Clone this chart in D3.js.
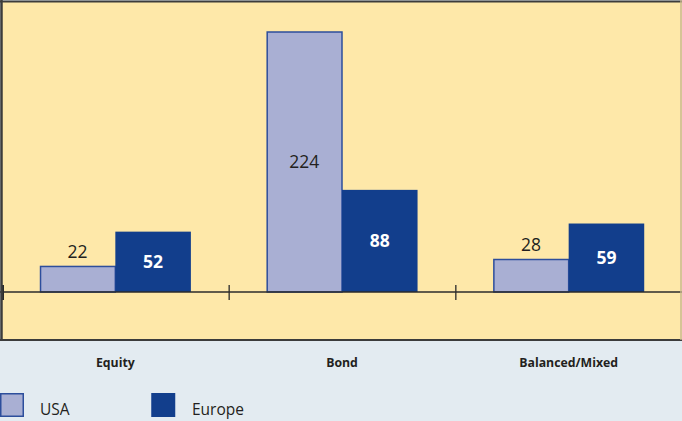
<!DOCTYPE html>
<html>
<head>
<meta charset="utf-8">
<script src="https://cdn.jsdelivr.net/npm/d3@7"></script>
<style>
html,body{margin:0;padding:0;background:#e3ebf1;}
svg{display:block;}
text{font-family:"Open Sans","Noto Sans",sans-serif;}
</style>
</head>
<body>
<svg id="chart" width="682" height="421"></svg>
<script>
const categories = ["Equity", "Bond", "Balanced/Mixed"];
const seriesNames = ["USA", "Europe"];
const usaValues = [22, 224, 28];
const europeValues = [52, 88, 59];

const W = 682, H = 421;
const plot = {left: 2, right: 682, top: 2, bottom: 340};
const colors = {USA: "#a9afd3", Europe: "#123e8c"};
const strokes = {USA: "#2d4e9c", Europe: "#123e8c"};

const svg = d3.select("#chart");

svg.append("rect").attr("x", 0).attr("y", 0).attr("width", W).attr("height", H).attr("fill", "#e3ebf1");

// plot background
svg.append("rect")
  .attr("x", plot.left).attr("y", plot.top)
  .attr("width", plot.right - plot.left).attr("height", plot.bottom - plot.top)
  .attr("fill", "#fee8a9");

const x0 = d3.scaleBand().domain(categories).range([plot.left, plot.right]).paddingInner(0).paddingOuter(0);
const x1 = d3.scaleBand().domain(seriesNames).range([0, x0.bandwidth()]).paddingInner(0).paddingOuter(0.5);
const y = d3.scaleLinear().domain([0, 224]).range([292, 32]);

const data = categories.map((c, i) => ({
  category: c,
  values: [{key: "USA", value: usaValues[i]}, {key: "Europe", value: europeValues[i]}]
}));

const groups = svg.append("g").selectAll("g").data(data).join("g")
  .attr("transform", d => `translate(${x0(d.category)},0)`);

groups.selectAll("rect").data(d => d.values).join("rect")
  .attr("x", d => x1(d.key) + (d.key === "USA" ? 0.75 : 0))
  .attr("y", d => y(d.value))
  .attr("width", d => x1.bandwidth() - (d.key === "USA" ? 0.75 : 0))
  .attr("height", d => y(0) - y(d.value))
  .attr("fill", d => colors[d.key])
  .attr("stroke", d => d.key === "USA" ? strokes.USA : "none")
  .attr("stroke-width", 1.5);

// value labels
groups.selectAll("text.val").data(d => d.values).join("text")
  .attr("class", "val")
  .attr("x", d => x1(d.key) + x1.bandwidth() / 2)
  .attr("y", d => {
    const h = y(0) - y(d.value);
    return h > 45 ? (y(d.value) + y(0)) / 2 : y(d.value) - 15;
  })
  .attr("dy", "0.36em")
  .attr("text-anchor", "middle")
  .attr("font-size", 17.5)
  .attr("font-weight", d => d.key === "Europe" ? "bold" : "normal")
  .attr("fill", d => d.key === "Europe" ? "#ffffff" : "#231f20")
  .text(d => d.value);

// axis line
svg.append("line")
  .attr("x1", 0).attr("x2", W).attr("y1", y(0)).attr("y2", y(0))
  .attr("stroke", "#2b2b2b").attr("stroke-width", 1.3);

// ticks at band boundaries
const tickPositions = categories.map(c => x0(c));
svg.append("g").selectAll("line").data(tickPositions).join("line")
  .attr("x1", d => d + 0.5).attr("x2", d => d + 0.5)
  .attr("y1", y(0) - 7).attr("y2", y(0) + 8)
  .attr("stroke", "#2b2b2b").attr("stroke-width", d => d === plot.left ? 3 : 1.3);

// frame
svg.append("line").attr("x1", 0).attr("x2", W).attr("y1", 1.5).attr("y2", 1.5).attr("stroke", "#3c3c3c").attr("stroke-width", 2);
svg.append("line").attr("x1", 1.5).attr("x2", 1.5).attr("y1", 0).attr("y2", plot.bottom).attr("stroke", "#3c3c3c").attr("stroke-width", 2.5);
svg.append("line").attr("x1", 0).attr("x2", W).attr("y1", plot.bottom).attr("y2", plot.bottom).attr("stroke", "#3c3c3c").attr("stroke-width", 2);
svg.append("line").attr("x1", W - 1).attr("x2", W - 1).attr("y1", 0).attr("y2", plot.bottom).attr("stroke", "#c8b98f").attr("stroke-width", 1.5);

// category labels
svg.append("g").selectAll("text").data(categories).join("text")
  .attr("x", d => x0(d) + x0.bandwidth() / 2)
  .attr("y", 367)
  .attr("text-anchor", "middle")
  .attr("font-size", 12.3)
  .attr("font-weight", "bold")
  .attr("fill", "#231f20")
  .text(d => d);

// legend
const legendX = [0, 152];
const legend = svg.append("g").selectAll("g").data(seriesNames).join("g")
  .attr("transform", (d, i) => `translate(${legendX[i]},393)`);
legend.append("rect")
  .attr("x", d => d === "USA" ? 0.75 : 0).attr("y", 0.75)
  .attr("width", 22.5).attr("height", 22.5)
  .attr("fill", d => colors[d])
  .attr("stroke", d => strokes[d]).attr("stroke-width", 1.5);
legend.append("text")
  .attr("x", 40).attr("y", 22)
  .attr("font-size", 15.5)
  .attr("fill", "#231f20")
  .text(d => d);
</script>
</body>
</html>
